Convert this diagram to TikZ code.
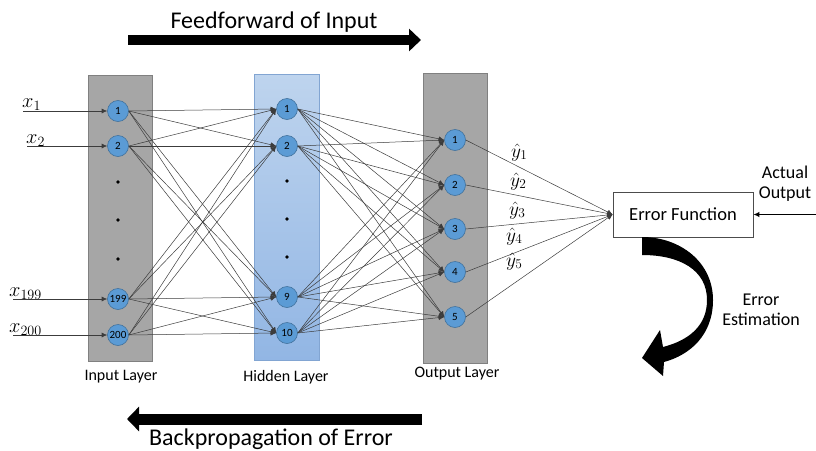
\documentclass[tikz,border=0pt]{standalone}
\usepackage{graphicx}
\usepackage[no-math]{fontspec}
\setmainfont{Carlito}
\usetikzlibrary{arrows.meta}

\definecolor{layergray}{RGB}{166,166,166}
\definecolor{layeredge}{RGB}{128,128,128}
\definecolor{hiddentop}{RGB}{190,212,238}
\definecolor{hiddenbot}{RGB}{146,182,228}
\definecolor{hiddenedge}{RGB}{130,165,210}
\definecolor{nodeblue}{RGB}{91,155,213}
\definecolor{nodeedge}{RGB}{65,113,156}
\definecolor{linkgray}{RGB}{60,60,60}

% enlarged math labels (math fonts stop growing past 17pt)
\newcommand{\biglabel}[1]{\scalebox{1.18}{$#1$}}
\newcommand{\hatlabel}[1]{\scalebox{1.12}{$#1$}}

\begin{document}
\begin{tikzpicture}[x=1pt,y=-1pt,
  neuron/.style={circle, draw=nodeedge, fill=nodeblue, line width=0.6pt,
    minimum size=21pt, inner sep=0pt, font=\fontsize{11}{11}\selectfont},
  layerbox/.style={draw=layeredge, fill=layergray, line width=0.8pt},
  link/.style={draw=linkgray, line width=0.5pt, -{Latex[length=5.5pt,width=5pt]}},
  inlink/.style={draw=linkgray, line width=0.6pt, -{Latex[length=5.5pt,width=5pt]}},
  caption/.style={font=\fontsize{16}{16}\selectfont},
  bigtext/.style={font=\fontsize{24}{24}\selectfont},
  midtext/.style={font=\fontsize{18}{21}\selectfont, align=center},
  mathlabel/.style={anchor=base west, inner sep=0pt, font=\fontsize{17}{17}\selectfont},
  yhat/.style={anchor=base west, inner sep=0pt, font=\fontsize{17}{17}\selectfont},
  dot/.style={fill=black}]

\useasboundingbox (0,0) rectangle (816,450);

% layer backgrounds
\filldraw[layerbox] (88,75) rectangle (152,361);
\shade[top color=hiddentop, bottom color=hiddenbot] (254,74) rectangle (319,360);
\draw[hiddenedge, line width=0.8pt] (254,74) rectangle (319,360);
\filldraw[layerbox] (423,73) rectangle (487,363);

% input neurons
\node[neuron] (i1) at (118,111) {1};
\node[neuron] (i2) at (118,146) {2};
\node[neuron] (i199) at (118,299) {199};
\node[neuron] (i200) at (118,335) {200};
\foreach \y in {182,220,259} \fill[dot] (118,\y) circle (1.8);

% hidden neurons
\node[neuron] (h1) at (287,109) {1};
\node[neuron] (h2) at (287,146) {2};
\node[neuron] (h9) at (287,297) {9};
\node[neuron] (h10) at (287,333) {10};
\foreach \y in {181,219,257} \fill[dot] (287,\y) circle (1.8);

% output neurons
\node[neuron] (o1) at (455,140) {1};
\node[neuron] (o2) at (455,185) {2};
\node[neuron] (o3) at (455,229) {3};
\node[neuron] (o4) at (455,272) {4};
\node[neuron] (o5) at (455,317) {5};

% layer captions
\node[caption] (capin) at (121,377) {Input Layer};
\node[caption] (caphid) at (286,377) {Hidden Layer};
\node[caption] (capout) at (457,374) {Output Layer};

% inputs
\coordinate (xs1) at (23,111);
\coordinate (xs2) at (27,146);
\coordinate (xs199) at (13,299);
\coordinate (xs200) at (13,335);
\draw[inlink] (xs1) -- (i1.west);
\draw[inlink] (xs2) -- (i2.west);
\draw[inlink] (xs199) -- (i199.west);
\draw[inlink] (xs200) -- (i200.west);
\node[mathlabel] (lx1) at (22,107) {\biglabel{x_1}};
\node[mathlabel] (lx2) at (26,143) {\biglabel{x_2}};
\node[mathlabel] (lx199) at (9,296) {\biglabel{x_{199}}};
\node[mathlabel] (lx200) at (9,332) {\biglabel{x_{200}}};

% input -> hidden
\foreach \a in {i1,i2,i199,i200}
  \foreach \b in {h1,h2,h9,h10}
    \draw[link] (\a.east) -- (\b.west);

% hidden -> output
\foreach \a in {h1,h2,h9,h10}
  \foreach \b in {o1,o2,o3,o4,o5}
    \draw[link] (\a.east) -- (\b.west);

% error function
\node[draw=black!70, line width=0.7pt, minimum width=140pt, minimum height=45pt,
      font=\fontsize{18.5}{18.5}\selectfont] (ef) at (683,214.5) {Error Function};
\foreach \b in {o1,o2,o3,o4,o5}
  \draw[link] (\b.east) -- (ef.west);

\node[yhat] (y1) at (511,157) {\hatlabel{\hat{y}_1}};
\node[yhat] (y2) at (510,186) {\hatlabel{\hat{y}_2}};
\node[yhat] (y3) at (509,215) {\hatlabel{\hat{y}_3}};
\node[yhat] (y4) at (506,241) {\hatlabel{\hat{y}_4}};
\node[yhat] (y5) at (506,266) {\hatlabel{\hat{y}_5}};

% actual output
\node[midtext] (act) at (785,184) {Actual\\[-1pt]Output};
\coordinate (actin) at (816,214.5);
\draw[line width=1.3pt, -{Latex[length=6pt,width=5.5pt]}] (actin) -- (ef.east);

% error estimation
\fill (642,237) .. controls (680,237) and (713,262) .. (713,300)
  .. controls (713,335) and (690,355) .. (664,362) -- (663,376) -- (642,358)
  -- (660,330) -- (663,347) .. controls (690,340) and (707,325) .. (707,300)
  .. controls (707,270) and (680,255) .. (642,255) -- cycle;
\node[midtext] (est) at (761,310) {Error\\[-1pt]Estimation};

% direction arrows
\coordinate (ffs) at (128,40);
\coordinate (ffe) at (421,40);
\draw[line width=10pt, -{Triangle[length=12pt,width=22pt]}] (ffs) -- (ffe);
\node[bigtext] (fftext) at (274,22) {Feedforward of Input};

\coordinate (bps) at (422,419);
\coordinate (bpe) at (127,419);
\draw[line width=11pt, -{Triangle[length=12pt,width=24pt]}] (bps) -- (bpe);
\node[bigtext] (bptext) at (271,439) {Backpropagation of Error};

\end{tikzpicture}
\end{document}
